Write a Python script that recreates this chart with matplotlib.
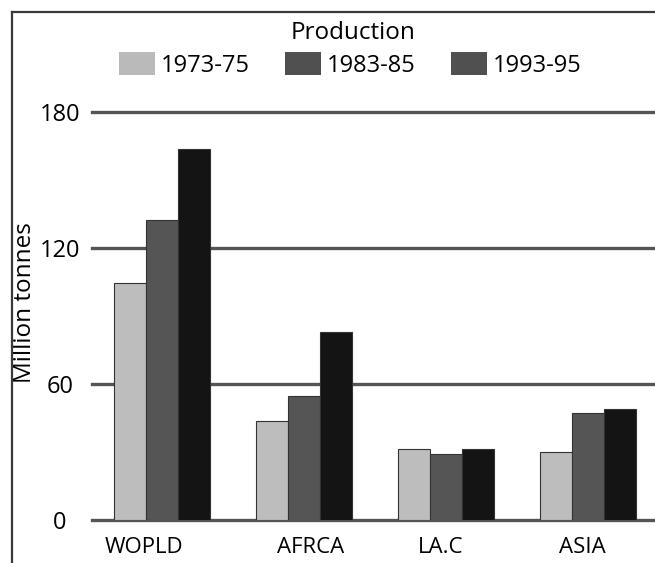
import matplotlib
matplotlib.use("Agg")
from matplotlib import pyplot as plt
from matplotlib.patches import Patch
import matplotlib.transforms as mtransforms
import numpy as np

plt.rcParams['font.family'] = ['Open Sans', 'DejaVu Sans']

# data
regions = ['WOPLD', 'AFRCA', 'LA.C', 'ASIA']
periods = ['1973-75', '1983-85', '1993-95']
prod_7375 = [104.5, 43.7, 31.3, 30.0]
prod_8385 = [132.4, 54.7, 29.1, 47.2]
prod_9395 = [163.7, 82.9, 31.3, 49.0]
yticks = [0, 60, 120, 180]

bar_colors = ['#bdbdbd', '#555555', '#141414']
legend_colors = ['#bababa', '#505050', '#505050']

fig = plt.figure(figsize=(6.55, 5.63), dpi=100)
ax = fig.add_axes([92 / 655, 43 / 563, 563 / 655, 408 / 563])

x = np.arange(len(regions))
w = 0.225
for i, vals in enumerate([prod_7375, prod_8385, prod_9395]):
    ax.bar(x + (i - 1) * w, vals, width=w, color=bar_colors[i],
           edgecolor='#333333', linewidth=0.8, zorder=3)

ax.set_xlim(-0.49, 3.47)
ax.set_ylim(0, 180)
ax.set_yticks(yticks)
ax.set_yticklabels([str(t) for t in yticks], fontsize=17)
ax.tick_params(axis='y', length=0, pad=23)
for lbl in ax.get_yticklabels():
    lbl.set_ha('center')
ax.set_xticks(x)
ax.set_xticklabels(regions, fontsize=16)
ax.tick_params(axis='x', length=0, pad=12)
# labels in the reference sit a little off the group centres
label_shift = [-18, 7, -5, -6]
for lbl, dx in zip(ax.get_xticklabels(), label_shift):
    lbl.set_transform(lbl.get_transform() +
                      mtransforms.ScaledTranslation(dx / 100, 0, fig.dpi_scale_trans))
for t in yticks:
    ax.axhline(t, color='#555555', linewidth=2.4, zorder=2, clip_on=False)
for s in ax.spines.values():
    s.set_visible(False)
ax.set_ylabel('Million tonnes', fontsize=17.5)
ax.yaxis.set_label_coords(-0.098, 0.532)

# frame around the figure (only left and top visible in reference)
fig.add_artist(plt.Line2D([12 / 655, 12 / 655], [0, 1 - 11.5 / 563],
                          color='#3a3a3a', linewidth=1.6))
fig.add_artist(plt.Line2D([12 / 655, 1], [1 - 11.5 / 563, 1 - 11.5 / 563],
                          color='#3a3a3a', linewidth=1.6))

fig.text(353 / 655, 1 - 33 / 563, 'Production', ha='center', va='center', fontsize=17.5)
handles = [Patch(facecolor=c, edgecolor='none') for c in legend_colors]
fig.legend(handles, periods, ncol=3, loc='center', bbox_to_anchor=(350 / 655, 1 - 65 / 563),
           frameon=False, fontsize=17, handlelength=1.52, handleheight=1.06,
           handletextpad=0.25, columnspacing=1.5, borderpad=0)

fig.savefig('out.png', dpi=100)
